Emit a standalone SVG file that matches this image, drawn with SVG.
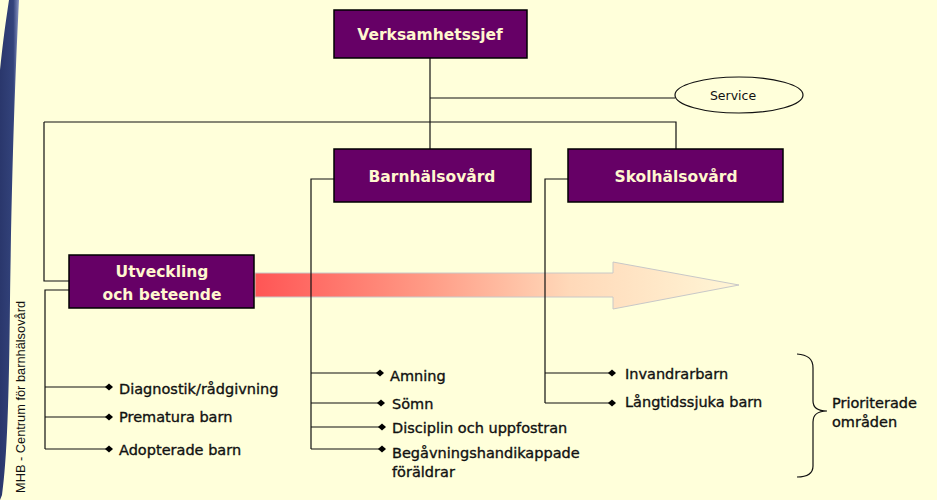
<svg xmlns="http://www.w3.org/2000/svg" width="937" height="500" viewBox="0 0 937 500">
  <defs>
    <linearGradient id="stripeGrad" x1="0" y1="0" x2="1" y2="0">
      <stop offset="0" stop-color="#2a376c"/>
      <stop offset="0.7" stop-color="#33437b"/>
      <stop offset="1" stop-color="#8a96c4"/>
    </linearGradient>
    <linearGradient id="arrowGrad" x1="255" y1="0" x2="740" y2="0" gradientUnits="userSpaceOnUse">
      <stop offset="0" stop-color="#ff5555"/>
      <stop offset="0.35" stop-color="#ff9a85"/>
      <stop offset="0.65" stop-color="#ffd9b9"/>
      <stop offset="1" stop-color="#fff6d6"/>
    </linearGradient>
    <marker id="diamond" markerUnits="userSpaceOnUse" markerWidth="9" markerHeight="9" refX="4.5" refY="4.5" orient="auto">
      <path d="M0.5,4.5 L4.5,1 L8.5,4.5 L4.5,8 Z" fill="#000"/>
    </marker>
    <style>
      .box { fill: #660066; stroke: #000; stroke-width: 1.5; }
      .boxText { font-family: "DejaVu Sans", "Noto Sans", sans-serif; font-weight: bold; font-size: 15.5px; fill: #fff7cf; text-anchor: middle; }
      .conn { fill: none; stroke: #111; stroke-width: 1.2; }
      .item { fill: none; stroke: #111; stroke-width: 1.2; marker-end: url(#diamond); }
      .label { font-family: "DejaVu Sans", "Noto Sans", sans-serif; font-size: 14.5px; fill: #111; stroke: #111; stroke-width: 0.35; }
      .svc { font-family: "DejaVu Sans", "Noto Sans", sans-serif; font-size: 12.5px; fill: #111; text-anchor: middle; }
    </style>
  </defs>

  <rect x="0" y="0" width="937" height="500" fill="#ffffda"/>

  <!-- left decorative stripe -->
  <path d="M9,0 L19,0 C16,60 12,150 10,300 C9,400 7,460 2,495 L0,500 L0,70 C3,40 6,20 9,0 Z" fill="url(#stripeGrad)"/>
  <text transform="translate(25,493) rotate(-90)" font-family="'Liberation Sans', Arial, sans-serif" font-size="12.8" fill="#111">MHB - Centrum för barnhälsovård</text>

  <!-- progress arrow -->
  <g id="progress-arrow">
    <path d="M255,273 L613,273 L613,262 L739,285 L613,309 L613,297 L255,297 Z" fill="url(#arrowGrad)" stroke="#c8c8c8" stroke-width="1"/>
  </g>

  <!-- connectors -->
  <g id="connectors">
    <path class="conn" d="M430,58 V149"/>
    <path class="conn" d="M430,98 H675"/>
    <path class="conn" d="M44,122 H676 V149"/>
    <path class="conn" d="M69,281 H44 V122"/>
    <path class="conn" d="M69,290 H45 V449"/>
    <path class="item" d="M45,387 H109"/>
    <path class="item" d="M45,417 H109"/>
    <path class="item" d="M45,449 H109"/>
    <path class="conn" d="M334,179 H311 V449"/>
    <path class="item" d="M311,373 H380"/>
    <path class="item" d="M311,403 H381"/>
    <path class="item" d="M311,427 H382"/>
    <path class="item" d="M311,449 H382"/>
    <path class="conn" d="M568,179 H545 V403"/>
    <path class="item" d="M545,373 H612"/>
    <path class="item" d="M545,403 H612"/>
  </g>

  <!-- nodes -->
  <g id="verksamhetssjef">
    <rect class="box" x="334" y="10" width="193" height="48"/>
    <text class="boxText" x="430" y="40">Verksamhetssjef</text>
  </g>
  <g id="service">
    <ellipse cx="739" cy="95" rx="64" ry="18" fill="#ffffda" stroke="#111" stroke-width="1.2"/>
    <text class="svc" x="733" y="100">Service</text>
  </g>
  <g id="barnhalsovard">
    <rect class="box" x="334" y="149" width="197" height="53"/>
    <text class="boxText" x="432" y="182">Barnhälsovård</text>
  </g>
  <g id="skolhalsovard">
    <rect class="box" x="568" y="149" width="215" height="53"/>
    <text class="boxText" x="676" y="182">Skolhälsovård</text>
  </g>
  <g id="utveckling">
    <rect class="box" x="69" y="255" width="185" height="53"/>
    <text class="boxText" x="162" y="277">Utveckling</text>
    <text class="boxText" x="162" y="300">och beteende</text>
  </g>

  <g id="utveckling-items">
    <text class="label" x="119" y="394">Diagnostik/rådgivning</text>
    <text class="label" x="119" y="422">Prematura barn</text>
    <text class="label" x="119" y="455">Adopterade barn</text>
  </g>
  <g id="barnhalsovard-items">
    <text class="label" x="390" y="381">Amning</text>
    <text class="label" x="392" y="409">Sömn</text>
    <text class="label" x="392" y="433">Disciplin och uppfostran</text>
    <text class="label" x="392" y="458">Begåvningshandikappade</text>
    <text class="label" x="392" y="477">föräldrar</text>
  </g>
  <g id="skolhalsovard-items">
    <text class="label" x="625" y="379">Invandrarbarn</text>
    <text class="label" x="625" y="407">Långtidssjuka barn</text>
  </g>

  <g id="prioriterade">
    <path class="conn" d="M797,354 C807,355 813,358 813,368 V401 C813,408 818,411 827,411 C818,411 813,415 813,422 V466 C813,474 807,477 797,477"/>
    <text class="label" x="832" y="408">Prioriterade</text>
    <text class="label" x="832" y="427">områden</text>
  </g>
</svg>
